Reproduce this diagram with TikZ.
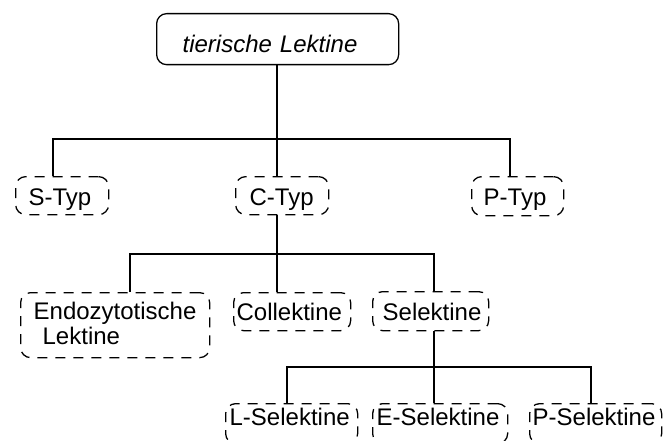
\documentclass[tikz,border=0pt]{standalone}
\usepackage{fontspec}
\setmainfont{Liberation Sans}
\begin{document}
\begin{tikzpicture}[x=1pt,y=-1pt,
  every node/.style={font=\fontsize{24}{25}\selectfont},
  dbox/.style={draw, dash pattern=on 10pt off 8pt, line width=1.3pt, rounded corners=10pt, anchor=north west, inner ysep=0pt, align=left},
  tbox/.style={draw, line width=1.3pt, rounded corners=10pt, anchor=north west, inner ysep=0pt, align=left},
  conn/.style={line width=2pt}]
\useasboundingbox (0,0) rectangle (666,441);
% boxes
\node[tbox, inner xsep=26pt, text width=190pt, text height=39pt, text depth=12pt, font=\fontsize{24}{28}\selectfont\itshape] (top) at (156,13) {tierische Lektine};
\node[dbox, inner xsep=13pt, text width=67pt, text height=29pt, text depth=9pt] (styp) at (15,176) {S-Typ};
\node[dbox, inner xsep=14pt, text width=65pt, text height=29pt, text depth=9pt] (ctyp) at (235,176) {C-Typ};
\node[dbox, inner xsep=12pt, text width=68pt, text height=29pt, text depth=10pt] (ptyp) at (471,176) {P-Typ};
\node[dbox, inner xsep=13pt, text width=163pt, text height=27pt, text depth=38pt] (endo) at (20,292) {Endozytotische\\\hspace*{9pt}Lektine};
\node[dbox, inner xsep=3pt, text width=111pt, text height=28pt, text depth=10pt] (coll) at (233,292) {Collektine};
\node[dbox, inner xsep=10pt, text width=96pt, text height=29pt, text depth=10pt] (sel) at (372,291) {Selektine};
\node[dbox, inner xsep=4pt, text width=124pt, text height=22pt, text depth=18pt] (lsel) at (225,403) {L-Selektine};
\node[dbox, inner xsep=4pt, text width=127pt, text height=22pt, text depth=18pt] (esel) at (372,403) {E-Selektine};
\node[dbox, inner xsep=3pt, text width=126pt, text height=22pt, text depth=18pt] (psel) at (529,403) {P-Selektine};
% bus coordinates
\coordinate (b1l) at (53,139);
\coordinate (b1m) at (277,139);
\coordinate (b1r) at (510,139);
\coordinate (b2l) at (130,254);
\coordinate (b2m) at (277,254);
\coordinate (b2r) at (434,254);
\coordinate (b3l) at (287,367);
\coordinate (b3m) at (434,367);
\coordinate (b3r) at (591,367);
% connectors
\draw[conn] (top.south -| b1m) -- (ctyp.north -| b1m);
\draw[conn] (styp.north -| b1l) -- (b1l) -- (b1r) -- (ptyp.north -| b1r);
\draw[conn] (ctyp.south -| b2m) -- (coll.north -| b2m);
\draw[conn] (endo.north -| b2l) -- (b2l) -- (b2r) -- (sel.north -| b2r);
\draw[conn] (sel.south -| b3m) -- (esel.north -| b3m);
\draw[conn] (lsel.north -| b3l) -- (b3l) -- (b3r) -- (psel.north -| b3r);
\end{tikzpicture}
\end{document}
